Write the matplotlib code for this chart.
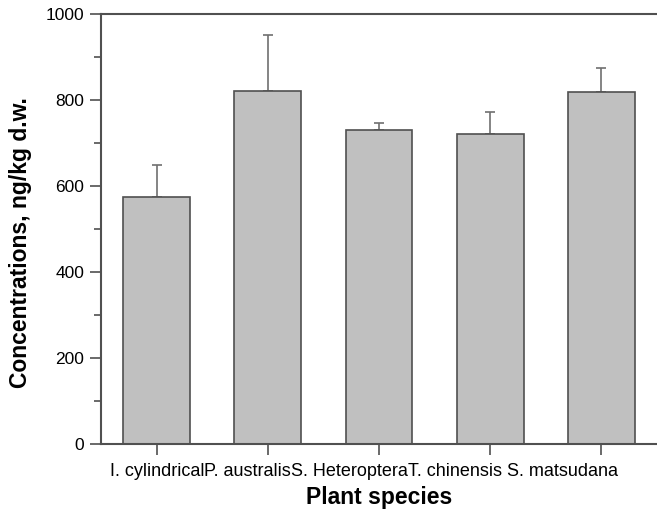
import numpy as np
import matplotlib.pyplot as plt
from matplotlib.ticker import MultipleLocator

species = ["I. cylindrical", "P. australis", "S. Heteroptera", "T. chinensis ", "S. matsudana"]
conc = [575, 821, 730, 720, 818]
err = [75, 130, 16, 51, 56]

plt.rcParams['font.family'] = ['Liberation Sans', 'DejaVu Sans']

W, H = 657, 513
fig = plt.figure(figsize=(W / 100, H / 100), dpi=100)
ax = fig.add_axes([101 / W, 1 - 444 / H, 556 / W, 430 / H])

x = np.arange(len(species))
ax.bar(x, conc, width=0.6, color='#c0c0c0', edgecolor='#505050', linewidth=1.2, zorder=2)
ax.errorbar(x, conc, yerr=[np.zeros(len(err)), err], fmt='none', ecolor='#707070',
            elinewidth=1.2, capsize=3.3, capthick=1.2, zorder=1)

ax.set_xlim(-0.5, 4.5)
ax.set_ylim(0, 1000)
ax.yaxis.set_major_locator(MultipleLocator(200))
ax.yaxis.set_minor_locator(MultipleLocator(100))
ax.set_xticks(x)
ax.set_xticklabels([])

for s in ['top', 'left', 'bottom']:
    ax.spines[s].set_color('#505050')
    ax.spines[s].set_linewidth(1.5)
ax.spines['right'].set_visible(False)

ax.tick_params(axis='both', which='major', direction='out', length=8, width=1.2,
               color='#505050', labelsize=12.5, pad=4)
ax.tick_params(axis='y', which='minor', direction='out', length=5, width=1.2, color='#505050')
ax.tick_params(axis='x', which='minor', bottom=False)

# category labels run together, as in the original
ty = 1 - 476 / H
prev = fig.text(110 / W, ty, species[0], fontsize=13, ha='left', va='baseline')
for name in species[1:]:
    prev = ax.annotate(name, xy=(1, ty), xycoords=(prev, 'figure fraction'),
                       fontsize=13, ha='left', va='baseline', annotation_clip=False)

fig.text(379 / W, 1 - 504 / H, "Plant species", fontsize=16.5, fontweight='bold',
         ha='center', va='baseline')
fig.text(27 / W, 1 - 243 / H, "Concentrations, ng/kg d.w.", fontsize=16.5,
         fontweight='bold', rotation=90, ha='center', va='baseline', rotation_mode='anchor')

fig.savefig("out.png", dpi=100)
